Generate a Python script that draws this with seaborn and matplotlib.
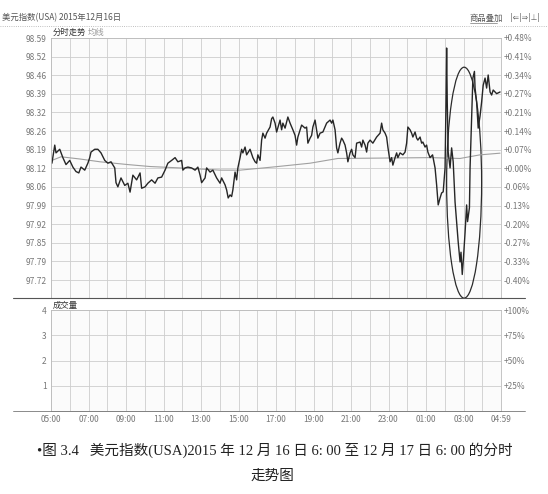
import pandas as pd
import matplotlib.pyplot as plt
import seaborn as sns
from matplotlib.patches import Ellipse
from matplotlib.lines import Line2D

# 分时数据：距 05:00 的分钟数 与 价格
minutes = [3, 12, 16, 28, 38, 48, 60, 70, 80, 89, 96, 108, 118, 124, 128, 140, 150, 160, 172, 182,
           192, 204, 208, 214, 224, 236, 246, 253, 262, 274, 285, 290, 301, 310, 322, 333, 342, 354,
           365, 374, 386, 397, 406, 418, 422, 429, 438, 450, 461, 470, 477, 482, 493, 498, 509, 518,
           530, 541, 546, 557, 562, 567, 573, 578, 582, 589, 594, 598, 605, 610, 614, 621, 626, 637,
           646, 653, 658, 662, 669, 674, 678, 685, 690, 701, 706, 710, 717, 722, 733, 738, 742, 749,
           758, 765, 774, 781, 786, 790, 802, 813, 818, 822, 829, 834, 838, 845, 850, 854, 861, 870,
           882, 893, 898, 902, 909, 914, 918, 925, 930, 934, 941, 946, 950, 957, 962, 966, 973, 978,
           989, 994, 998, 1005, 1010, 1014, 1021, 1030, 1042, 1053, 1058, 1062, 1069, 1074, 1078,
           1085, 1090, 1094, 1101, 1106, 1110, 1117, 1126, 1133, 1138, 1142, 1149, 1154, 1158, 1165,
           1170, 1174, 1181, 1186, 1190, 1197, 1202, 1206, 1213, 1221, 1229, 1234, 1239, 1245, 1250,
           1255, 1261, 1264, 1266, 1268, 1271, 1277, 1282, 1287, 1293, 1298, 1303, 1309, 1312, 1316,
           1319, 1325, 1330, 1333, 1339, 1341, 1346, 1350, 1355, 1357, 1362, 1367, 1373, 1378, 1383,
           1389, 1394, 1399, 1405, 1410, 1415, 1426, 1437]
price = [98.14, 98.205, 98.177, 98.19, 98.16, 98.135, 98.15, 98.126, 98.11, 98.105, 98.126, 98.115,
         98.14, 98.16, 98.18, 98.19, 98.19, 98.177, 98.15, 98.14, 98.145, 98.123, 98.07, 98.055,
         98.087, 98.06, 98.068, 98.036, 98.097, 98.08, 98.105, 98.05, 98.055, 98.068, 98.08, 98.068,
         98.087, 98.09, 98.115, 98.14, 98.15, 98.16, 98.145, 98.15, 98.115, 98.123, 98.126, 98.123,
         98.115, 98.126, 98.097, 98.07, 98.087, 98.123, 98.108, 98.115, 98.087, 98.068, 98.087,
         98.062, 98.044, 98.015, 98.026, 98.02, 98.044, 98.108, 98.08, 98.123, 98.16, 98.19, 98.177,
         98.198, 98.17, 98.19, 98.16, 98.145, 98.14, 98.17, 98.15, 98.223, 98.248, 98.23, 98.248,
         98.27, 98.30, 98.306, 98.284, 98.252, 98.295, 98.26, 98.284, 98.266, 98.306, 98.284, 98.26,
         98.24, 98.205, 98.234, 98.277, 98.266, 98.27, 98.212, 98.23, 98.24, 98.27, 98.295, 98.26,
         98.23, 98.248, 98.252, 98.284, 98.295, 98.284, 98.295, 98.26, 98.195, 98.177, 98.212,
         98.23, 98.223, 98.205, 98.177, 98.145, 98.177, 98.19, 98.17, 98.16, 98.212, 98.216, 98.198,
         98.223, 98.205, 98.18, 98.212, 98.223, 98.212, 98.234, 98.248, 98.284, 98.26, 98.248,
         98.234, 98.198, 98.145, 98.16, 98.133, 98.16, 98.177, 98.16, 98.177, 98.17, 98.18, 98.212,
         98.27, 98.26, 98.248, 98.234, 98.252, 98.23, 98.223, 98.234, 98.212, 98.216, 98.198,
         98.205, 98.18, 98.16, 98.17, 98.123, 98.062, 97.99, 98.015, 98.033, 98.037, 98.123, 98.36,
         98.554, 98.36, 98.18, 98.123, 98.195, 98.145, 98.0, 97.93, 97.857, 97.785, 97.82, 97.74,
         97.785, 97.89, 97.99, 97.93, 97.98, 98.123, 98.30, 98.446, 98.47, 98.41, 98.36, 98.266,
         98.31, 98.36, 98.42, 98.446, 98.41, 98.457, 98.396, 98.385, 98.403, 98.39, 98.396]

# 均线
avg_minutes = [3, 32, 93, 157, 246, 317, 413, 541, 605, 717, 829, 918, 1021, 1213, 1309, 1373, 1437]
avg_price = [98.15, 98.163, 98.155, 98.145, 98.135, 98.128, 98.123, 98.115, 98.115, 98.127,
             98.14, 98.157, 98.158, 98.16, 98.157, 98.17, 98.176]

left_labels = ["98.59", "98.52", "98.46", "98.39", "98.32", "98.26", "98.19",
               "98.12", "98.06", "97.99", "97.92", "97.85", "97.79", "97.72"]
right_labels = ["+0.48%", "+0.41%", "+0.34%", "+0.27%", "+0.21%", "+0.14%", "+0.07%",
                "+0.00%", "-0.06%", "-0.13%", "-0.20%", "-0.27%", "-0.33%", "-0.40%"]
vol_labels = ["1", "2", "3", "4"]
vol_right = ["+25%", "+50%", "+75%", "+100%"]
time_labels = ["05:00", "07:00", "09:00", "11:00", "13:00", "15:00", "17:00",
               "19:00", "21:00", "23:00", "01:00", "03:00", "04:59"]

sns.set_theme(style="whitegrid")
plt.rcParams['font.family'] = ['Noto Sans CJK SC', 'DejaVu Sans']
plt.rcParams['axes.unicode_minus'] = False

W, H = 548, 494
fig = plt.figure(figsize=(W / 100, H / 100), dpi=100)
fig.patch.set_facecolor('white')

def fx(px):
    return px / W

def fy(py):
    return 1 - py / H

ax = fig.add_axes([fx(51), fy(298), fx(450), 260 / H])
axv = fig.add_axes([fx(51), fy(411), fx(450), 101 / H])

step = 0.06692
ticks = [98.59 - i * step for i in range(len(left_labels))]
ylo = 98.59 - 260 / 278.2

df = pd.DataFrame({'t': minutes, 'p': price})
df_avg = pd.DataFrame({'t': avg_minutes, 'p': avg_price})
sns.lineplot(data=df_avg, x='t', y='p', ax=ax, color='#a0a0a0', lw=0.8)
sns.lineplot(data=df, x='t', y='p', ax=ax, color='#262626', lw=1.0)

# 手绘圈注
ax.add_patch(Ellipse((1322, 98.07), width=112, height=0.83, fill=False, ec='#2b2b2b', lw=0.9))

grid_kw = dict(color='#cdcdcd', lw=0.6)
for a in (ax, axv):
    a.set_facecolor('#fbfbfb')
    a.set_xlim(0, 1440)
    a.set_xticks(range(0, 1441, 120))
    a.set_xticks(range(60, 1440, 120), minor=True)
    a.grid(which='both', **grid_kw)
    a.set_xlabel('')
    a.set_ylabel('')
    for s in a.spines.values():
        s.set_color('#bbbbbb')
        s.set_linewidth(0.6)
    a.tick_params(which='both', length=0, labelsize=6, labelcolor='#777777', pad=3)

ax.set_ylim(ylo, 98.59)
ax.set_yticks(ticks)
ax.set_yticklabels(left_labels)
ax.set_xticklabels([])
ax2 = ax.twinx()
ax2.set_ylim(ylo, 98.59)
ax2.set_yticks(ticks)
ax2.set_yticklabels(right_labels)
ax2.grid(False)
ax2.tick_params(length=0, labelsize=6, labelcolor='#777777', pad=2)
for s in ax2.spines.values():
    s.set_visible(False)

axv.set_ylim(0, 4)
axv.set_yticks([1, 2, 3, 4])
axv.set_yticklabels(vol_labels)
axv.set_xticklabels(time_labels)
axv2 = axv.twinx()
axv2.set_ylim(0, 4)
axv2.set_yticks([1, 2, 3, 4])
axv2.set_yticklabels(vol_right)
axv2.grid(False)
axv2.tick_params(length=0, labelsize=6, labelcolor='#777777', pad=2)
for s in axv2.spines.values():
    s.set_visible(False)

# 顶部标题栏
fig.text(fx(2), fy(18), "美元指数(USA) 2015年12月16日", fontsize=6, color='#555555', va='center')
fig.text(fx(470), fy(18), "商品叠加", fontsize=6, color='#555555', va='center')
fig.add_artist(Line2D([fx(470), fx(497)], [fy(23), fy(23)], color='#777777', lw=0.5))
fig.text(fx(510), fy(18), "|⇐|⇒|⊥|", fontsize=5.5, color='#666666', va='center',
         family=['DejaVu Sans'])
fig.add_artist(Line2D([0, 1], [fy(26), fy(26)], color='#aaaaaa', lw=0.6, ls=':'))
fig.text(fx(53), fy(32), "分时走势", fontsize=6, color='#333333', va='center')
fig.text(fx(88), fy(32), "均线", fontsize=6, color='#999999', va='center')
fig.text(fx(53), fy(305), "成交量", fontsize=6, color='#333333', va='center')
fig.add_artist(Line2D([fx(13), fx(525)], [fy(298), fy(298)], color='#555555', lw=0.8))
fig.add_artist(Line2D([fx(13), fx(525)], [fy(411), fy(411)], color='#777777', lw=0.6))

# 图注
cap_font = ['Liberation Serif', 'Noto Sans CJK SC']
fig.text(fx(275), fy(450), "•图 3.4   美元指数(USA)2015 年 12 月 16 日 6: 00 至 12 月 17 日 6: 00 的分时",
         fontsize=10.5, color='#222222', ha='center', va='center', family=cap_font)
fig.text(fx(272), fy(476), "走势图", fontsize=10.5, color='#222222', ha='center', va='center',
         family=cap_font)

fig.savefig('out.png', dpi=100, facecolor='white')
